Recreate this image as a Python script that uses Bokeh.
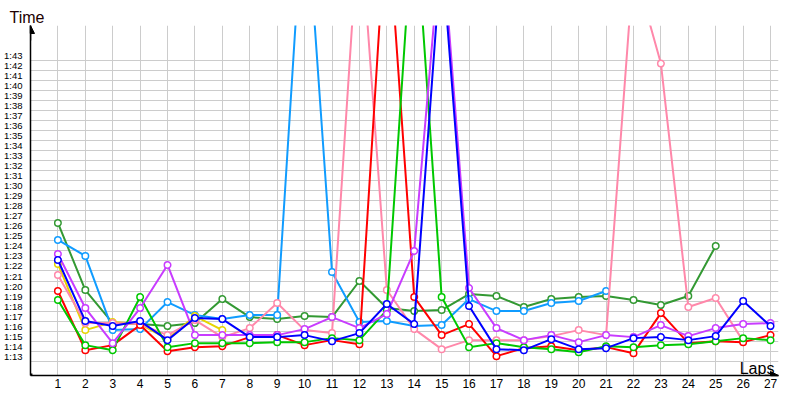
from bokeh.plotting import figure
from bokeh.models import Range1d, FixedTicker, Label, Arrow, NormalHead, BoxAnnotation
from bokeh.embed import file_html
from bokeh.resources import INLINE

# ---- data (lap times in seconds) ----
laps = list(range(1, 28))
y_ticks = list(range(73, 104))
y_tick_labels = ["1:13", "1:14", "1:15", "1:16", "1:17", "1:18", "1:19", "1:20",
                 "1:21", "1:22", "1:23", "1:24", "1:25", "1:26", "1:27", "1:28",
                 "1:29", "1:30", "1:31", "1:32", "1:33", "1:34", "1:35", "1:36",
                 "1:37", "1:38", "1:39", "1:40", "1:41", "1:42", "1:43"]

dark_green = [86.3, 79.6, 76.3, 76.2, 76.0, 76.3, 78.7, 76.9, 76.7, 77.0, 76.9, 80.5, 77.8,
              77.5, 77.6, 79.2, 79.0, 77.9, 78.7, 78.9, 79.0, 78.6, 78.1, 79.0, 84.0]
light_blue = [84.6, 83.0, 75.6, 75.7, 78.4, 77.1, 76.7, 77.1, 77.1, 120.5, 81.4, 76.4, 76.5,
              76.0, 76.1, 78.7, 77.5, 77.5, 78.3, 78.5, 79.5]
red = [79.5, 73.6, 74.1, 76.1, 73.5, 73.9, 74.0, 74.9, 75.1, 74.1, 74.6, 74.2, 117.8, 78.9,
       75.1, 76.2, 73.0, 73.8, 74.0, 73.6, 73.9, 73.3, 77.3, 74.3, 74.5, 74.4, 75.1]
green = [78.6, 74.1, 73.6, 78.9, 73.9, 74.3, 74.3, 74.3, 74.4, 74.4, 74.8, 74.6, 77.6, 118.5,
         78.9, 73.9, 74.3, 73.9, 73.7, 73.4, 74.0, 73.9, 74.1, 74.2, 74.5, 74.8, 74.6]
blue = [82.6, 76.5, 76.0, 76.5, 74.6, 76.8, 76.7, 74.9, 74.9, 75.1, 74.5, 75.3, 78.2, 76.2,
        113.5, 78.0, 73.7, 73.6, 74.7, 73.7, 73.8, 74.8, 74.9, 74.6, 75.0, 78.5, 76.0]
purple = [83.2, 77.8, 74.3, 77.8, 82.1, 75.1, 75.1, 75.1, 75.1, 75.7, 76.9, 75.8, 77.2, 83.5,
          115.2, 79.8, 75.8, 74.6, 75.1, 74.4, 75.1, 74.9, 76.1, 75.0, 75.8, 76.2, 76.3]
pink = [81.1, 76.3, 76.3, 76.2, 75.1, 76.6, 74.9, 75.8, 78.3, 75.6, 75.3, 117.3, 79.6, 75.7,
        73.7, 74.6, 74.6, 74.6, 75.0, 75.6, 75.1, 112.0, 102.2, 77.9, 78.8, 74.5]
yellow = [82.2, 75.6, 76.4, 76.2, 74.7, 77.0, 75.6]

series = [
    (dark_green, "#339933"),
    (light_blue, "#109cff"),
    (yellow, "#e6d500"),
    (pink, "#ff88aa"),
    (red, "#ff0000"),
    (green, "#00c800"),
    (purple, "#c83cff"),
    (blue, "#0000ff"),
]

Y_MIN, Y_MAX = 71.07, 106.0
X_MIN, X_MAX = 0.0, 27.29

p = figure(width=784, height=392, output_backend="svg", toolbar_location=None,
           x_range=Range1d(X_MIN, X_MAX), y_range=Range1d(Y_MIN, Y_MAX),
           min_border_left=30, min_border_right=6, min_border_top=25, min_border_bottom=17,
           title="Time")
p.outline_line_color = None
p.background_fill_color = "white"
p.border_fill_color = "white"

# title ("Time" axis caption)
p.title.align = "left"
p.title.offset = -21
p.title.standoff = 0
p.title.text_font = "Liberation Sans"
p.title.text_font_size = "16px"
p.title.text_font_style = "normal"
p.title.text_color = "#200000"

# axes
p.xaxis.ticker = FixedTicker(ticks=laps)
p.yaxis.ticker = FixedTicker(ticks=y_ticks)
p.yaxis.major_label_overrides = {t: l for t, l in zip(y_ticks, y_tick_labels)}
for ax in (p.xaxis[0], p.yaxis[0]):
    ax.major_tick_line_color = None
    ax.minor_tick_line_color = None
    ax.major_tick_out = 0
    ax.major_tick_in = 0
    ax.minor_tick_out = 0
    ax.axis_line_color = "black"
    ax.axis_line_width = 1.5
    ax.major_label_text_color = "#000000"
    ax.major_label_text_font = "Liberation Sans"
p.xaxis.major_label_text_font_size = "12px"
p.xaxis.major_label_standoff = 3
p.yaxis.major_label_text_font_size = "9.5px"
p.yaxis.major_label_standoff = 8

# grid
p.xgrid.ticker = FixedTicker(ticks=laps)
p.ygrid.ticker = FixedTicker(ticks=[t - 0.5 for t in y_ticks])
p.xgrid.grid_line_color = "#cccccc"
p.ygrid.grid_line_color = "#cccccc"
p.xgrid.grid_line_width = 1
p.ygrid.grid_line_width = 1

# series
for vals, col in series:
    xs = laps[:len(vals)]
    p.line(xs, vals, line_color=col, line_width=2)
    p.scatter(xs, vals, size=6.5, marker="circle", fill_color="white",
              line_color=col, line_width=1.5)

# axis arrow heads
p.add_layout(Arrow(end=NormalHead(size=8, fill_color="black", line_color="black"),
                   x_start=0, y_start=Y_MAX - 1.5, x_end=0, y_end=Y_MAX,
                   line_color="black", line_width=1.5))
p.add_layout(Arrow(end=NormalHead(size=8, fill_color="black", line_color="black"),
                   x_start=X_MAX - 0.5, y_start=Y_MIN, x_end=X_MAX, y_end=Y_MIN,
                   line_color="black", line_width=1.5))

# small origin square
p.add_layout(BoxAnnotation(left=X_MIN - 0.07, right=X_MIN + 0.07,
                           bottom=Y_MIN - 0.2, top=Y_MIN + 0.2,
                           fill_color="black", fill_alpha=1.0, line_color=None))

# x axis caption
p.add_layout(Label(x=27.14, y=71.77, text="Laps", text_font="Liberation Sans",
                   text_font_size="16px", text_color="#000000",
                   text_baseline="alphabetic", text_align="right"))

open("out.html", "w").write(file_html(p, INLINE))
